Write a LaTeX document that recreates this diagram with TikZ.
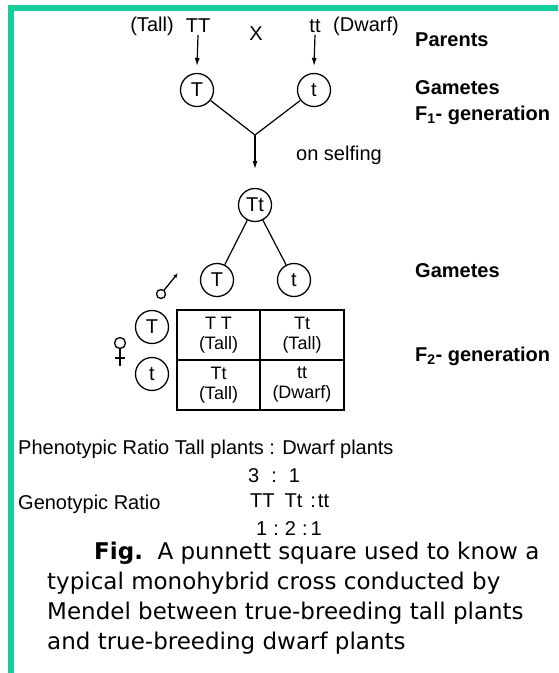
\documentclass[tikz,border=0pt]{standalone}
\usepackage{fontspec}
\setmainfont{Liberation Sans}
\newfontfamily\capfont{DejaVu Sans}
\usetikzlibrary{arrows.meta}
\definecolor{framegreen}{RGB}{22,206,152}
\begin{document}
\begin{tikzpicture}[x=1pt,y=-1pt,
  lbl/.style={font=\fontsize{20}{22}\selectfont, inner sep=0pt},
  side/.style={font=\bfseries\fontsize{20}{22}\selectfont, anchor=west, inner sep=0pt},
  ratio/.style={font=\fontsize{20}{22}\selectfont, anchor=west, inner sep=0pt},
  gam/.style={circle, draw, line width=1.3pt, minimum size=33pt, inner sep=0pt, font=\fontsize{20}{22}\selectfont},
  cell/.style={font=\fontsize{18}{20}\selectfont, align=center, inner sep=0pt},
  link/.style={line width=1.2pt},
  sign/.style={line width=1.3pt},
  arr/.style={line width=1.2pt, -{Latex[length=8pt,width=5pt]}},
  caption/.style={font=\capfont\fontsize{23}{30}\selectfont, anchor=west, inner sep=0pt}]
\useasboundingbox (0,0) rectangle (558,673);
\fill[white] (0,0) rectangle (558,673);
% frame
\fill[framegreen] (8,5) rectangle (558,11);
\fill[framegreen] (8,5) rectangle (14,673);

% parents
\node[lbl] (tallp) at (152,26) {(Tall)};
\node[lbl] (TT) at (198,26) {TT};
\node[lbl] (cross) at (256,34) {X};
\node[lbl] (tt) at (315,26) {tt};
\node[lbl] (dwarfp) at (366,26) {(Dwarf)};

% gametes of parents
\node[gam] (gT) at (197,90) {T};
\node[gam] (gt) at (314,90) {t};
\coordinate (gTin) at (197,66);
\coordinate (gtin) at (314,66);
\draw[arr] (TT.south) ++(0,2) coordinate (TTo) -- (gTin);
\draw[arr] (tt.south) ++(0,2) coordinate (tto) -- (gtin);

% fusion to F1
\coordinate (join) at (255,135);
\coordinate (f1in) at (255,169);
\draw[link] (gT) -- (join) -- (gt);
\draw[arr] (join) -- (f1in);
\node[lbl] (self) at (339,155) {on selfing};

% F1 and its gametes
\node[gam] (F1) at (255,205) {Tt};
\node[gam] (mT) at (217,280) {T};
\node[gam] (mt) at (294,280) {t};
\draw[link] (F1) -- (mT);
\draw[link] (F1) -- (mt);

% male sign: small ring with a long arrowed stem
\node[circle, draw, sign, minimum size=9pt, inner sep=0pt] (male) at (161,294) {};
\coordinate (maletip) at (178,273);
\draw[sign, -{Latex[length=5pt,width=4pt]}] (male) -- (maletip);
% female sign: ring with a crossed stem
\node[circle, draw, sign, minimum size=11pt, inner sep=0pt] (female) at (120,343) {};
\coordinate (femfoot) at (120,366);
\draw[sign] (female) -- (femfoot);
\draw[sign] (115,358) -- (125,358);

% female gametes
\node[gam] (fT) at (152,327) {T};
\node[gam] (ft) at (152,374) {t};

% punnett square
\draw[line width=1.3pt] (177,310) rectangle (344,410);
\draw[line width=1.3pt] (260,310) -- (260,410);
\draw[line width=1.3pt] (177,360) -- (344,360);
\node[cell] (c11) at (218.5,335) {T T\\(Tall)};
\node[cell] (c12) at (302,335) {Tt\\(Tall)};
\node[cell] (c21) at (218.5,385) {Tt\\(Tall)};
\node[cell] (c22) at (302,385) {tt\\(Dwarf)};

% right-hand labels
\node[side] (sP) at (415,40) {Parents};
\node[side] (sG1) at (415,88) {Gametes};
\node[side] (sF1) at (415,115) {F\textsubscript{1}- generation};
\node[side] (sG2) at (415,271) {Gametes};
\node[side] (sF2) at (415,356) {F\textsubscript{2}- generation};

% ratios
\node[ratio] (pheno) at (18,449) {Phenotypic Ratio Tall plants : Dwarf plants};
\node[ratio] (pr) at (248,476) {3\hspace{12pt}:\hspace{12pt}1};
\node[ratio] (geno) at (18,504) {Genotypic Ratio};
\node[ratio] (gk) at (250,501) {TT\hspace{10pt}Tt\hspace{8pt}:\hspace{2pt}tt};
\node[ratio] (gr) at (256,529) {1\hspace{6pt}:\hspace{6pt}2\hspace{6pt}:\hspace{3pt}1};

% caption
\node[caption] (cap1) at (94,553) {\textbf{Fig.}\ \ A punnett square used to know a};
\node[caption] (cap2) at (47,583) {typical monohybrid cross conducted by};
\node[caption] (cap3) at (47,613) {Mendel between true-breeding tall plants};
\node[caption] (cap4) at (47,643) {and true-breeding dwarf plants};
\end{tikzpicture}
\end{document}
